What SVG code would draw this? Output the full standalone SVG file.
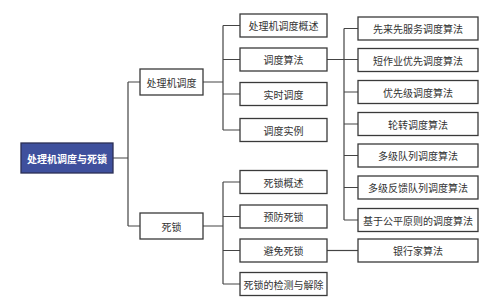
<svg xmlns="http://www.w3.org/2000/svg" width="499" height="305" viewBox="0 0 499 305">
<style>
.box{fill:#fff;stroke:#3a3a3a;stroke-width:1.3}
.root{fill:#3f509d;stroke:#2b2f55;stroke-width:1.3}
.t{font-family:"Noto Sans CJK SC","Noto Sans",sans-serif;font-size:10px;fill:#333;text-anchor:middle;dominant-baseline:central}
.rt{font-family:"Noto Sans CJK SC","Noto Sans",sans-serif;font-size:10px;fill:#fff;font-weight:bold;text-anchor:middle;dominant-baseline:central}
.c{fill:none;stroke:#444;stroke-width:1.2}
</style>
<rect width="499" height="305" fill="#fff"/>
<g id="connectors">
<path class="c" d="M113 158H128M128 82V226M128 82H140M128 226H140"/>
<path class="c" d="M203 82H223M223 25.5V130M223 25.5H240M223 59.5H240M223 94H240M223 130H240"/>
<path class="c" d="M203 226H223M223 182V284M223 182H240M223 216.5H240M223 250.5H240M223 284H240"/>
<path class="c" d="M327 59.5H358M344 28.5V220M344 28.5H358M344 92H358M344 124H358M344 155.5H358M344 187.5H358M344 220H358"/>
<path class="c" d="M327 250.5H358"/>
</g>
<g id="root"><rect class="root" x="21" y="143" width="92" height="30"/><text class="rt" x="67" y="158">处理机调度与死锁</text></g>
<g id="n-proc"><rect class="box" x="140" y="69" width="63" height="26"/><text class="t" x="171.5" y="82">处理机调度</text></g>
<g id="n-dead"><rect class="box" x="140" y="213" width="63" height="26"/><text class="t" x="171.5" y="226">死锁</text></g>
<g id="p1"><rect class="box" x="240" y="14" width="87" height="23"/><text class="t" x="283.5" y="25.5">处理机调度概述</text></g>
<g id="p2"><rect class="box" x="240" y="48" width="87" height="23"/><text class="t" x="283.5" y="59.5">调度算法</text></g>
<g id="p3"><rect class="box" x="240" y="82.5" width="87" height="23"/><text class="t" x="283.5" y="94">实时调度</text></g>
<g id="p4"><rect class="box" x="240" y="118.5" width="87" height="23"/><text class="t" x="283.5" y="130">调度实例</text></g>
<g id="d1"><rect class="box" x="240" y="170.5" width="87" height="23"/><text class="t" x="283.5" y="182">死锁概述</text></g>
<g id="d2"><rect class="box" x="240" y="205" width="87" height="23"/><text class="t" x="283.5" y="216.5">预防死锁</text></g>
<g id="d3"><rect class="box" x="240" y="239" width="87" height="23"/><text class="t" x="283.5" y="250.5">避免死锁</text></g>
<g id="d4"><rect class="box" x="240" y="272.5" width="87" height="23"/><text class="t" x="283.5" y="284">死锁的检测与解除</text></g>
<g id="a1"><rect class="box" x="358" y="17" width="120" height="23"/><text class="t" x="418" y="28.5">先来先服务调度算法</text></g>
<g id="a2"><rect class="box" x="358" y="48.5" width="120" height="23"/><text class="t" x="418" y="60">短作业优先调度算法</text></g>
<g id="a3"><rect class="box" x="358" y="80.5" width="120" height="23"/><text class="t" x="418" y="92">优先级调度算法</text></g>
<g id="a4"><rect class="box" x="358" y="112.5" width="120" height="23"/><text class="t" x="418" y="124">轮转调度算法</text></g>
<g id="a5"><rect class="box" x="358" y="144" width="120" height="23"/><text class="t" x="418" y="155.5">多级队列调度算法</text></g>
<g id="a6"><rect class="box" x="358" y="176" width="120" height="23"/><text class="t" x="418" y="187.5">多级反馈队列调度算法</text></g>
<g id="a7"><rect class="box" x="358" y="208.5" width="120" height="23"/><text class="t" x="418" y="220">基于公平原则的调度算法</text></g>
<g id="b1"><rect class="box" x="358" y="239" width="120" height="23"/><text class="t" x="418" y="250.5">银行家算法</text></g>
</svg>
